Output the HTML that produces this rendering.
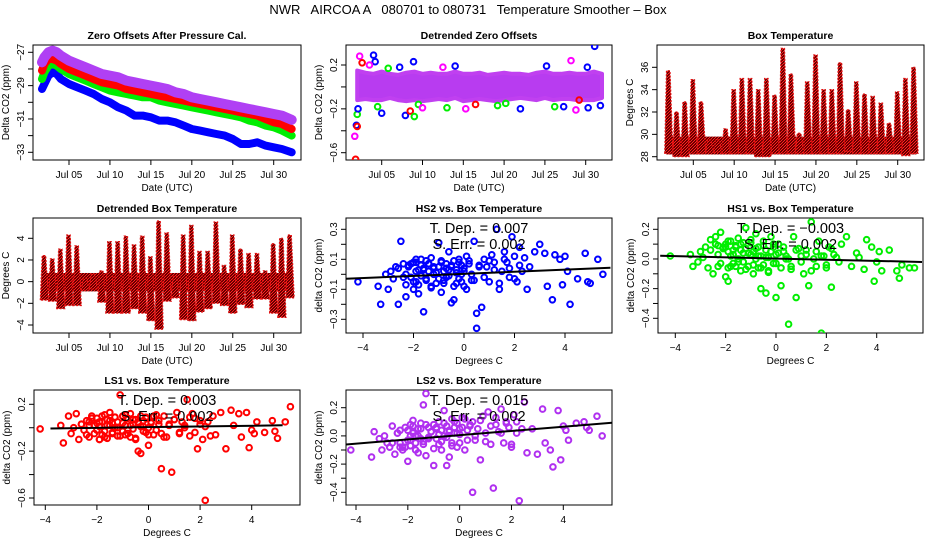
<!DOCTYPE html>
<html><head><meta charset="utf-8"><title>NWR AIRCOA Temperature Smoother</title>
<style>
html,body{margin:0;padding:0;background:#fff;}
svg{display:block;font-family:"Liberation Sans",Arial,sans-serif;}
</style></head>
<body>
<svg id="chart" width="936" height="540" viewBox="0 0 936 540" xmlns="http://www.w3.org/2000/svg">
<defs>
<pattern id="pr" width="3" height="3" patternUnits="userSpaceOnUse"><rect width="3" height="3" fill="#6a0000"/><rect width="1" height="1" fill="#ff2020"/><rect x="2" y="1" width="1" height="1" fill="#ff2020"/><rect x="1" y="2" width="1" height="1" fill="#ff2020"/></pattern>
</defs>
<text x="468" y="14" text-anchor="middle" font-size="13" xml:space="preserve">NWR   AIRCOA A   080701 to 080731   Temperature Smoother – Box</text>
</svg>
<script>
// ---------- data ----------
const zeroDays = [1.7,2,2.5,3,3.5,4,5,6,7,8,9,10,11,12,13,14,15,16,17,18,19,20,21,22,23,24,25,26,27,28,29,30,31,32.2];
const zeroBlue = [-29.2,-28.9,-28.4,-28.2,-28.3,-28.6,-28.9,-29.1,-29.3,-29.5,-29.8,-30.0,-30.3,-30.5,-30.8,-30.8,-30.9,-31.1,-31.1,-31.2,-31.4,-31.6,-31.7,-31.8,-31.9,-32.0,-32.2,-32.5,-32.5,-32.4,-32.6,-32.7,-32.8,-33.0];
const zeroGreen = [-28.6,-28.2,-27.8,-27.7,-27.8,-28.0,-28.3,-28.5,-28.7,-28.9,-29.1,-29.3,-29.4,-29.5,-29.6,-29.7,-29.7,-29.9,-30.0,-30.1,-30.2,-30.3,-30.4,-30.5,-30.6,-30.7,-30.8,-30.9,-31.1,-31.2,-31.4,-31.5,-31.7,-32.0];
const zeroRed = [-28.1,-27.7,-27.4,-27.4,-27.5,-27.7,-28.0,-28.2,-28.4,-28.6,-28.8,-28.9,-29.0,-29.2,-29.3,-29.4,-29.5,-29.6,-29.7,-29.8,-29.9,-30.0,-30.1,-30.2,-30.3,-30.4,-30.5,-30.6,-30.7,-30.8,-31.0,-31.2,-31.3,-31.6];
const zeroPurple = [-27.6,-27.3,-27.0,-26.9,-27.0,-27.2,-27.5,-27.7,-27.9,-28.1,-28.3,-28.4,-28.5,-28.7,-28.8,-28.9,-29.0,-29.1,-29.2,-29.4,-29.5,-29.7,-29.8,-29.9,-30.0,-30.1,-30.2,-30.3,-30.4,-30.5,-30.6,-30.7,-30.8,-31.05];

const bandDays = [2,3,4,5,6,7,8,9,10,11,12,13,14,15,16,17,18,19,20,21,22,23,24,25,26,27,28,29,30,31,32];
const detrUpper = [0.15,0.13,0.12,0.14,0.12,0.11,0.13,0.14,0.12,0.13,0.12,0.12,0.14,0.12,0.12,0.13,0.11,0.12,0.13,0.12,0.12,0.11,0.13,0.14,0.12,0.12,0.13,0.12,0.12,0.14,0.12];
const detrLower = [-0.12,-0.11,-0.12,-0.12,-0.1,-0.12,-0.13,-0.12,-0.13,-0.12,-0.11,-0.12,-0.1,-0.13,-0.12,-0.11,-0.12,-0.13,-0.12,-0.11,-0.1,-0.11,-0.12,-0.1,-0.12,-0.11,-0.11,-0.12,-0.12,-0.12,-0.1];
const outDays = [1.7,1.8,1.9,2.0,2.0,2.1,2.3,2.6,4.0,4.2,4.5,5.0,5.8,7.2,7.9,8.5,8.9,9.0,9.5,10.0,13.0,14.0,15.3,16.5,19.2,20.2,22.0,25.2,26.2,27.3,28.2,28.8,30.2,30.3,31.1,31.8,29.2,3.5,12.5];
const outVals = [-0.45,-0.66,-0.35,-0.36,-0.25,-0.2,0.28,0.22,0.29,0.23,-0.18,-0.24,0.17,0.18,-0.26,-0.22,0.23,-0.27,-0.16,-0.19,-0.19,0.19,-0.2,-0.16,-0.17,-0.15,-0.2,0.19,-0.18,-0.18,0.24,-0.21,0.18,-0.19,0.37,-0.17,-0.12,0.2,0.18];
const outColors = ['#ff00ff','#ff0000','#0000ff','#ff0000','#00ee00','#0000ff','#ff00ff','#ff0000','#0000ff','#0000ff','#00ee00','#0000ff','#00ee00','#0000ff','#0000ff','#ff0000','#0000ff','#00ee00','#00ee00','#ff00ff','#00ee00','#0000ff','#ff00ff','#ff0000','#00ee00','#00ee00','#0000ff','#0000ff','#00ee00','#0000ff','#ff00ff','#ff00ff','#0000ff','#0000ff','#0000ff','#0000ff','#ff0000','#ff00ff','#ff00ff'];

const boxDays = [2,3,4,5,6,7,8,9,10,11,12,13,14,15,16,17,18,19,20,21,22,23,24,25,26,27,28,29,30,31,32];
const boxMax = [35.7,32.0,32.9,34.9,32.9,29.5,29.5,30.5,34.0,35.0,35.0,34.0,35.0,33.5,37.7,35.4,30.1,34.7,37.1,34.0,34.0,36.4,32.2,34.7,33.6,33.4,32.8,31.0,33.8,35.0,36.0];
const boxMin = [28.3,28.0,28.0,28.3,28.3,28.4,28.4,28.3,28.3,28.3,28.3,28.0,28.0,28.3,28.3,28.3,28.3,28.3,28.3,28.3,28.3,28.3,28.5,28.3,28.3,28.3,28.3,28.3,28.3,28.1,28.3];
const dtMax = [2.4,2.1,3.0,4.3,3.3,0.3,0.7,1.0,3.7,3.7,4.2,3.4,4.2,2.3,5.6,4.5,0.5,4.3,5.2,2.8,2.8,5.5,1.5,4.3,3.0,2.6,2.6,1.0,3.5,4.0,4.3];
const dtMin = [-1.7,-1.8,-2.5,-2.2,-2.2,-0.8,-0.7,-1.9,-2.9,-2.9,-2.9,-2.5,-2.9,-3.6,-4.4,-1.8,-1.5,-3.5,-3.6,-2.8,-2.5,-2.0,-2.2,-2.9,-2.1,-2.4,-1.6,-1.6,-2.9,-3.3,-1.5];

const tempX = [-4.2,-3.4,-3.3,-3.1,-3.0,-2.9,-2.8,-2.7,-2.6,-2.5,-2.4,-2.3,-2.3,-2.2,-2.1,-2.0,-2.0,-1.9,-1.9,-1.8,-1.8,-1.7,-1.7,-1.6,-1.6,-1.5,-1.5,-1.4,-1.4,-1.3,-1.3,-1.2,-1.2,-1.1,-1.0,-1.0,-0.9,-0.9,-0.8,-0.8,-0.7,-0.7,-0.6,-0.6,-0.5,-0.5,-0.4,-0.4,-0.3,-0.3,-0.2,-0.2,-0.1,-0.1,0.0,0.0,0.1,0.2,0.3,0.4,0.5,0.5,0.6,0.7,0.8,0.9,1.0,1.1,1.2,1.3,1.4,1.5,1.6,1.7,1.8,1.9,2.0,2.1,2.2,2.3,2.5,2.6,2.8,3.0,3.2,3.3,3.5,3.6,3.8,3.9,4.0,4.1,4.2,4.5,4.8,4.9,5.0,5.3,5.5,-2.1,
  -2.6,-2.4,-2.2,-2.0,-1.9,-1.8,-1.7,-1.6,-1.5,-1.4,-1.3,-1.2,-1.1,-1.0,-0.9,-0.8,-0.7,-0.6,-0.5,-0.4,-0.3,-0.2,-0.1,0.0,0.1,0.2,0.3,0.4,0.6,0.8,1.0,1.2,1.4,1.6,1.8,2.0,2.2,2.4,-2.3,-1.9];
const hs2Y = [-0.05,-0.08,-0.2,0.0,-0.1,0.02,-0.03,0.05,-0.2,0.22,0.07,-0.15,0.0,0.05,-0.02,0.08,-0.1,0.1,-0.05,0.03,-0.13,0.06,-0.01,-0.25,0.04,0.09,-0.03,0.02,0.07,-0.08,0.11,0.0,0.04,-0.06,0.21,0.05,-0.12,0.08,0.02,-0.04,0.07,-0.02,0.15,0.03,-0.19,0.05,-0.17,0.09,0.01,-0.06,0.1,-0.03,0.06,0.0,-0.08,0.04,0.12,0.09,-0.04,0.22,-0.36,-0.26,0.06,-0.22,0.1,0.05,-0.05,0.13,0.08,0.3,-0.1,0.02,0.15,0.08,-0.02,0.25,0.12,-0.05,0.18,0.02,-0.1,0.05,0.15,0.2,0.14,-0.08,-0.17,0.13,0.1,-0.07,0.12,0.02,-0.2,-0.03,0.14,-0.05,-0.06,0.1,0.0,0.07,
  0.04,-0.02,0.06,-0.05,0.02,-0.07,0.1,0.03,-0.04,0.07,-0.09,0.05,0.01,-0.03,0.09,-0.06,0.04,-0.01,0.06,-0.08,0.03,0.08,-0.05,0.02,-0.1,0.07,0.0,-0.04,0.05,-0.02,0.09,0.03,-0.06,0.1,0.04,-0.03,0.06,0.11,-0.07,0.08];
const hs1Y = [0.02,0.03,-0.05,-0.02,0.05,0.01,0.08,-0.06,0.13,-0.1,0.15,0.03,-0.05,0.18,0.07,-0.12,0.1,0.05,-0.15,0.02,0.12,-0.03,0.06,0.08,-0.05,0.14,0.0,-0.08,0.1,0.04,-0.02,0.21,0.07,-0.05,0.03,0.11,-0.1,0.05,0.0,0.17,-0.06,0.08,0.02,-0.2,0.12,-0.04,0.06,-0.23,0.01,-0.09,0.05,0.15,-0.03,0.08,-0.26,0.03,0.1,-0.18,0.05,0.02,-0.44,0.0,-0.07,0.15,-0.26,0.07,0.02,-0.1,0.06,-0.18,0.25,0.0,-0.05,0.12,-0.5,0.02,-0.06,0.08,-0.19,0.03,-0.02,0.1,0.15,-0.05,0.04,0.01,-0.07,0.13,0.08,-0.15,-0.02,0.05,-0.08,0.06,-0.08,-0.13,-0.04,-0.06,-0.06,0.08,
  0.06,0.1,-0.03,0.08,0.12,-0.05,0.03,0.09,-0.02,0.06,0.11,-0.07,0.04,0.13,-0.04,0.07,0.02,-0.06,0.09,0.01,-0.08,0.05,0.1,-0.03,0.04,-0.06,0.08,0.0,-0.05,0.06,-0.02,0.03,-0.08,0.05,0.02,-0.04,0.07,0.01,0.09,-0.06];
const ls1Y = [-0.01,0.02,-0.13,0.1,-0.05,0.0,0.12,-0.1,0.03,-0.02,0.06,-0.08,0.02,0.1,-0.05,0.04,0.08,-0.1,0.01,0.05,-0.06,0.11,-0.03,0.07,-0.09,0.02,0.13,-0.05,0.04,0.0,0.09,-0.07,0.05,0.28,-0.03,0.1,-0.06,0.02,0.08,-0.02,0.12,-0.08,0.03,-0.01,0.07,-0.1,0.04,-0.2,0.1,-0.22,0.01,0.06,-0.04,0.09,-0.15,0.0,0.05,-0.06,0.11,0.03,-0.35,-0.05,0.1,-0.08,0.02,-0.38,0.07,0.13,-0.04,0.05,0.0,0.24,-0.07,0.12,0.08,-0.18,0.03,-0.1,-0.62,0.05,0.1,-0.06,0.13,-0.18,0.15,0.02,0.12,-0.08,0.13,-0.17,-0.02,-0.05,0.05,-0.04,0.06,-0.03,-0.09,0.05,0.18,0.02,
  0.03,-0.06,0.08,-0.02,0.05,0.1,-0.08,0.02,0.06,-0.04,0.09,0.0,-0.07,0.04,0.11,-0.05,0.02,0.07,-0.09,0.05,0.01,-0.03,0.08,-0.06,0.04,0.1,-0.02,0.06,-0.08,0.03,0.07,-0.05,0.02,0.09,-0.04,0.06,0.01,-0.07,0.05,-0.1];
const ls2Y = [-0.1,-0.15,0.03,-0.02,-0.1,0.0,-0.05,-0.08,0.07,-0.13,0.02,-0.05,0.04,-0.1,0.06,-0.18,-0.03,0.08,-0.07,0.02,0.11,-0.05,0.0,-0.12,0.05,-0.02,0.09,0.22,-0.04,0.3,-0.14,0.06,-0.01,0.03,-0.21,0.08,-0.02,0.05,0.1,-0.06,0.04,-0.1,0.18,0.0,-0.21,0.07,-0.15,0.03,0.12,-0.05,0.06,0.02,-0.08,0.09,0.01,0.05,0.13,-0.1,0.04,0.07,-0.4,0.1,-0.03,0.05,-0.17,0.14,0.02,0.17,-0.06,-0.37,0.08,0.03,0.19,-0.05,0.1,0.06,-0.08,0.15,0.02,-0.46,0.24,-0.12,0.05,-0.13,0.19,-0.05,-0.1,-0.22,0.18,-0.17,0.07,0.04,-0.03,0.09,0.1,0.06,0.04,0.14,0.0,-0.08,
  -0.05,0.02,-0.08,0.04,-0.03,0.07,-0.1,0.0,0.05,-0.06,0.08,-0.02,0.03,-0.09,0.06,0.01,-0.04,0.09,-0.01,0.04,-0.07,0.1,0.02,-0.05,0.06,0.12,-0.03,0.08,0.0,0.11,-0.04,0.07,0.13,0.02,0.09,-0.06,0.1,0.05,-0.08,0.0];
const fitSlopes = [0.007,-0.004,0.003,0.015];
const fitIntercepts = [0.003,0.003,0.005,0.005];
const fitLabels = ['0.007','\u22120.003','0.003','0.015'];
const errLabels = ['0.002','0.002','0.002','0.002'];
const dateTicks = [5,10,15,20,25,30];
const dateLabels = ['Jul 05','Jul 10','Jul 15','Jul 20','Jul 25','Jul 30'];

// ---------- helpers ----------
const NS = 'http://www.w3.org/2000/svg';
const svg = document.getElementById('chart');
function mk(tag, attrs, parent){ const e=document.createElementNS(NS,tag); for(const k in attrs) e.setAttribute(k,attrs[k]); (parent||svg).appendChild(e); return e; }
function lin(d0,p0,d1,p1){ const k=(p1-p0)/(d1-d0); return v=>p0+(v-d0)*k; }

function frame(name, box, title, xTitle, yTitle, xs, ys, xt, xl, yt, ylabelSet){
  const g = mk('g',{});
  
  
  const [L,T,R,B]=box;
  const fr = mk('rect',{x:L,y:T,width:R-L,height:B-T,fill:'none',stroke:'#000','stroke-width':1},g);
  
  
  const tt = mk('text',{x:(L+R)/2,y:T-6,'text-anchor':'middle','font-size':10.5,'font-weight':'bold'},g);
  tt.textContent = title;
  
  
  xt.forEach((v,i)=>{
    const x=xs(v);
    const tk = mk('line',{x1:x,x2:x,y1:B,y2:B+5,stroke:'#000'},g);
    
    
    const lb = mk('text',{x:x,y:B+18,'text-anchor':'middle','font-size':10},g);
    lb.textContent = xl[i];
    
    
  });
  yt.forEach((v,i)=>{
    const y=ys(v);
    const tk = mk('line',{x1:L-5,x2:L,y1:y,y2:y,stroke:'#000'},g);
    
    
    if(ylabelSet[i]!==''){
      const lb = mk('text',{x:0,y:0,'text-anchor':'middle','font-size':10,transform:`translate(${L-9},${y}) rotate(-90)`},g);
      lb.textContent = ylabelSet[i];
      
      
    }
  });
  const xa = mk('text',{x:(L+R)/2,y:B+31,'text-anchor':'middle','font-size':10},g);
  xa.textContent = xTitle;
  
  
  const ya = mk('text',{x:0,y:0,'text-anchor':'middle','font-size':10,transform:`translate(${L-24},${(T+B)/2}) rotate(-90)`},g);
  ya.textContent = yTitle;
  
  
  const clip = mk('clipPath',{id:'clip-'+name},svg);
  mk('rect',{x:L,y:T,width:R-L,height:B-T},clip);
  const dg = mk('g',{'clip-path':`url(#clip-${name})`},g);
  
  
  return dg;
}

// ---------- Panel 1: zero offsets ----------
{
  const xs=lin(5,69,30,273.7), ys=lin(-27,52.3,-33,152.3);
  const dg=frame('zero-offsets',[33,45,301,160],'Zero Offsets After Pressure Cal.','Date (UTC)','Delta CO2 (ppm)',xs,ys,dateTicks,dateLabels,[-27,-28,-29,-30,-31,-32,-33],['\u221227','','\u221229','','\u221231','','\u221233']);
  const series=[[zeroBlue,'#0000ff',8,'hs2'],[zeroGreen,'#00ee00',8,'hs1'],[zeroRed,'#ff0000',8,'ls1'],[zeroPurple,'#b040f4',10,'ls2']];
  series.forEach(s=>{
    const pts=zeroDays.map((d,i)=>xs(d).toFixed(1)+','+ys(s[0][i]).toFixed(1)).join(' ');
    const pl=mk('polyline',{points:pts,fill:'none',stroke:s[1],'stroke-width':s[2],'stroke-linejoin':'round','stroke-linecap':'round'},dg);
    
    
  });
}
// ---------- Panel 2: detrended zero offsets ----------
{
  const xs=lin(5,381.7,30,585.7), ys=lin(0.2,65,-0.6,152.7);
  const dg=frame('detrended-zero',[346,45,612,160],'Detrended Zero Offsets','Date (UTC)','Delta CO2 (ppm)',xs,ys,dateTicks,dateLabels,[0.2,0,-0.2,-0.4,-0.6],['0.2','','\u22120.2','','\u22120.6']);
  const up=bandDays.map((d,i)=>xs(d).toFixed(1)+','+ys(detrUpper[i]).toFixed(1));
  const lo=bandDays.map((d,i)=>xs(d).toFixed(1)+','+ys(detrLower[i]).toFixed(1)).reverse();
  const band=mk('polygon',{points:up.concat(lo).join(' '),fill:'#b83cf0',stroke:'#c040f0','stroke-width':4,'stroke-linejoin':'round'},dg);
  
  
  outDays.forEach((d,i)=>{
    const c=mk('circle',{cx:xs(d),cy:ys(outVals[i]),r:2.8,fill:'none',stroke:outColors[i],'stroke-width':2},dg);
    
    
  });
}
// ---------- Panel 3 & 4: box temperature ----------
function tempPanel(name,title,box,xs,ys,maxA,minA,yt,yl,baseLo,baseHi,hw){
  const dg=frame(name,box,title,'Date (UTC)','Degrees C',xs,ys,dateTicks,dateLabels,yt,yl);
  const base=mk('rect',{x:xs(1.7),y:ys(baseHi),width:xs(32.3)-xs(1.7),height:ys(baseLo)-ys(baseHi),fill:'url(#pr)'},dg);
  
  
  boxDays.forEach((d,i)=>{
    const p=[[d-hw,minA[i]],[d-hw*0.55,maxA[i]],[d+hw*0.3,maxA[i]],[d+hw,minA[i]]].map(q=>xs(q[0]).toFixed(1)+','+ys(q[1]).toFixed(1)).join(' ');
    const col=mk('polygon',{points:p,fill:'url(#pr)',stroke:'#e01010','stroke-width':1.2,'stroke-dasharray':'2 1.5'},dg);
    
    
  });
}
tempPanel('box-temperature','Box Temperature',[657,45,924,160],lin(5,693.3,30,897.7),lin(28,156.7,36,67.3),boxMax,boxMin,[28,30,32,34,36],['28','30','32','34','36'],28.2,29.8,0.5);
tempPanel('detrended-box-temp','Detrended Box Temperature',[33,218,301,333],lin(5,69,30,273.7),lin(4,238.3,-4,325),dtMax,dtMin,[-4,-2,0,2,4],['\u22124','\u22122','0','2','4'],-0.9,0.8,0.5);

// ---------- scatter panels ----------
function scatter(name,title,box,xs,ys,yVals,color,k,yt,yl,xr){
  const dg=frame(name,box,title,'Degrees C','delta CO2 (ppm)',xs,ys,[-4,-2,0,2,4],['\u22124','\u22122','0','2','4'],yt,yl);
  tempX.forEach((t,i)=>{
    const c=mk('circle',{cx:xs(t),cy:ys(yVals[i]),r:2.8,fill:'none',stroke:color,'stroke-width':2},dg);
    
    
  });
  const f=v=>fitIntercepts[k]+fitSlopes[k]*v;
  const ln=mk('line',{x1:xs(xr[0]),y1:ys(f(xr[0])),x2:xs(xr[1]),y2:ys(f(xr[1])),stroke:'#000','stroke-width':2},dg);
  
  
  const cx=(box[0]+box[2])/2;
  const t1=mk('text',{x:cx,y:box[1]+15,'text-anchor':'middle','font-size':14.5,'xml:space':'preserve'});
  t1.textContent='T. Dep. =  '+fitLabels[k];
  
  
  const t2=mk('text',{x:cx,y:box[1]+31,'text-anchor':'middle','font-size':14.5,'xml:space':'preserve'});
  t2.textContent='S. Err. =  '+errLabels[k];
  
  
}
scatter('hs2-vs-box','HS2 vs. Box Temperature',[346,218,612,333],lin(-4,363,4,565),lin(0.3,229.3,-0.3,319.3),hs2Y,'#0000ff',0,[0.3,0.2,0.1,0,-0.1,-0.2,-0.3],['0.3','','0.1','','\u22120.1','','\u22120.3'],[-4.8,5.8]);
scatter('hs1-vs-box','HS1 vs. Box Temperature',[658,218,923,333],lin(-4,675.3,4,876.7),lin(0.2,229.3,-0.4,318.3),hs1Y,'#00ee00',1,[0.2,0.1,0,-0.1,-0.2,-0.3,-0.4],['0.2','','0.0','','\u22120.2','','\u22120.4'],[-4.6,5.8]);
scatter('ls1-vs-box','LS1 vs. Box Temperature',[34,390,300,505],lin(-4,45.3,4,251.7),lin(0.2,404.3,-0.6,498),ls1Y,'#ff0000',2,[0.2,0,-0.2,-0.4,-0.6],['0.2','','\u22120.2','','\u22120.6'],[-3.8,5.2]);
scatter('ls2-vs-box','LS2 vs. Box Temperature',[346,390,612,505],lin(-4,356,4,563.3),lin(0.2,407.7,-0.4,492.3),ls2Y,'#b030f0',3,[0.2,0.1,0,-0.1,-0.2,-0.3,-0.4],['0.2','','0.0','','\u22120.2','','\u22120.4'],[-4.6,6.0]);
</script>
</body></html>
